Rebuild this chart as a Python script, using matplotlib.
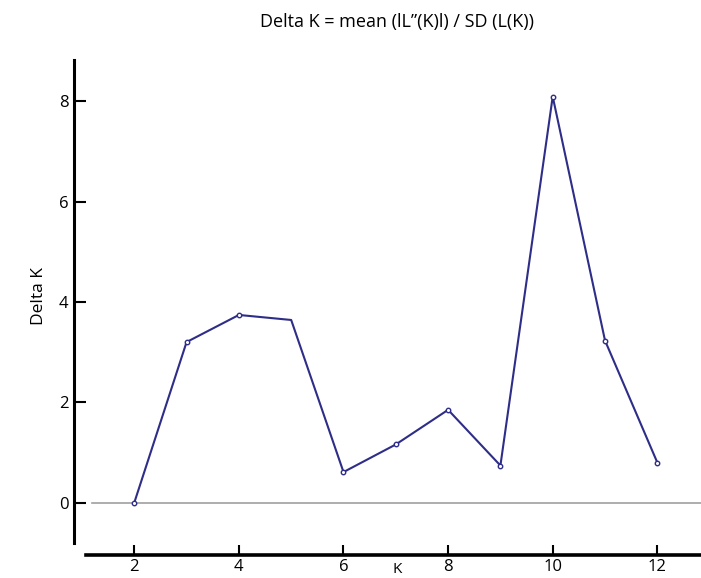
import matplotlib
matplotlib.use("Agg")
import matplotlib.pyplot as plt

# Data
k_values = [2, 3, 4, 5, 6, 7, 8, 9, 10, 11, 12]
delta_k = [0.0, 3.20, 3.74, 3.64, 0.61, 1.16, 1.85, 0.74, 8.09, 3.23, 0.80]
marker_idx = [0, 1, 2, 4, 5, 6, 7, 8, 9, 10]
x_ticks = [2, 4, 6, 8, 10, 12]
y_ticks = [0, 2, 4, 6, 8]

title = "Delta K = mean (lL\u201d(K)l) / SD (L(K))"

plt.rcParams['font.family'] = ['Open Sans', 'DejaVu Sans']

W, H = 701, 578
fig = plt.figure(figsize=(W / 100, H / 100), dpi=100)
# axes box in pixel terms: left 86, right 701, top 60, bottom 543
ax = fig.add_axes([86 / W, (H - 543) / H, (701 - 86) / W, (543 - 60) / H])

line_color = '#2e2d88'
ax.axhline(0, xmin=0.01, xmax=1, color='#a0a0a0', lw=1.2, zorder=1)
ax.plot(k_values, delta_k, color=line_color, lw=1.5, marker='o', markersize=3.2,
        markerfacecolor='white', markeredgecolor=line_color, markeredgewidth=1.0,
        markevery=marker_idx, zorder=3)

ax.set_xlim(1.077, 12.835)
ax.set_ylim(-0.803, 8.819)

for s in ['top', 'right']:
    ax.spines[s].set_visible(False)
ax.spines['left'].set_position(('outward', 8.64))
ax.spines['bottom'].set_position(('outward', 8.64))
ax.spines['left'].set_linewidth(2.2)
ax.spines['bottom'].set_linewidth(2.6)

ax.set_xticks(x_ticks)
ax.set_yticks(y_ticks)
ax.set_xticklabels([str(v) for v in x_ticks])
ax.set_yticklabels([str(v) for v in y_ticks])
ax.tick_params(axis='y', direction='in', length=8.6, width=1.5, pad=4, labelsize=12)
ax.tick_params(axis='x', direction='in', length=7.2, width=1.5, pad=3, labelsize=12)

fig.text(397 / W, 1 - 22 / H, title, ha='center', va='center', fontsize=13)
fig.text(39 / W, 1 - 296 / H, 'Delta K', ha='center', va='center', rotation=90, fontsize=12.5)
fig.text(397 / W, 0.6 / H, 'K', ha='center', va='bottom', fontsize=11)

fig.savefig('out.png', dpi=100)
